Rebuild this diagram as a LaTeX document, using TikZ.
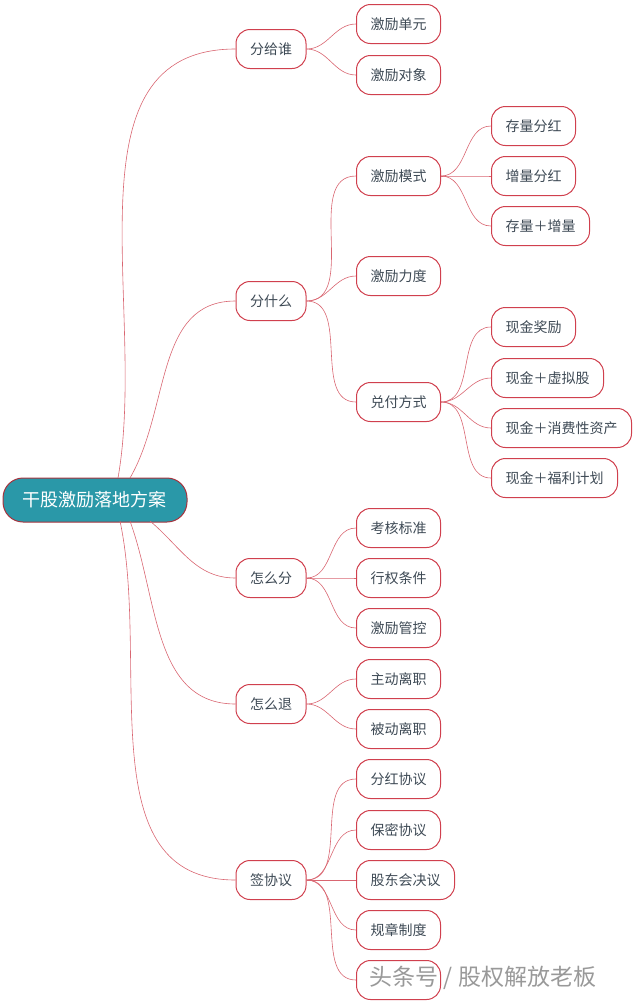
\documentclass[tikz,border=0pt]{standalone}
\usepackage{fontspec}
\setmainfont{Noto Sans CJK SC}
\definecolor{tc}{HTML}{3E4A55}
\definecolor{bd}{HTML}{D0404E}
\definecolor{tl}{HTML}{2A98A8}
\begin{document}
\begin{tikzpicture}[x=1pt,y=-1pt,
  nd/.style={draw=bd,line width=1pt,fill=white,rounded corners=14pt,minimum height=39pt,inner xsep=14pt,font=\fontsize{14}{16}\selectfont,text=tc},
  root/.style={draw=bd!80!black,line width=1pt,fill=tl,rounded corners=20pt,minimum height=44pt,minimum width=184pt,text=white,font=\fontsize{18}{21}\selectfont},
  ln/.style={draw=bd!80,line width=0.6pt}]
\useasboundingbox (0,0) rectangle (640,1005);
\node[root] (r) at (95,500) {干股激励落地方案};
\node[nd] (a) at (271,49) {分给谁};
\node[nd] (b) at (271,301) {分什么};
\node[nd] (c) at (271,578) {怎么分};
\node[nd] (d) at (271,704) {怎么退};
\node[nd] (e) at (271,880) {签协议};
\foreach \n/\y/\t in {a1/24/激励单元,a2/75/激励对象,b1/176/激励模式,b2/276/激励力度,b3/402/兑付方式,c1/528/考核标准,c2/578/行权条件,c3/628/激励管控,d1/679/主动离职,d2/729/被动离职,e1/779/分红协议,e2/830/保密协议,e3/880/股东会决议,e4/930/规章制度,e5/980/{\phantom{薪酬制度}}}
  \node[nd,anchor=west] (\n) at (356,\y) {\t};
\foreach \n/\y/\t in {m1/126/存量分红,m2/176/增量分红,m3/226/存量＋增量,p1/327/现金奖励,p2/378/现金＋虚拟股,p3/428/现金＋消费性资产,p4/478/现金＋福利计划}
  \node[nd,anchor=west] (\n) at (491,\y) {\t};
\draw[ln] (118,478) to[out=80,in=180] (a.west);
\draw[ln] (130,478) to[out=60,in=180] (b.west);
\draw[ln] (150,521) to[out=-40,in=180] (c.west);
\draw[ln] (130,521) to[out=-70,in=180] (d.west);
\draw[ln] (120,521) to[out=-78,in=180] (e.west);
\foreach \p/\c in {a/a1,a/a2,b/b1,b/b2,b/b3,c/c1,c/c2,c/c3,d/d1,d/d2,e/e1,e/e2,e/e3,e/e4,e/e5,b1/m1,b1/m2,b1/m3,b3/p1,b3/p2,b3/p3,b3/p4}
  \draw[ln] (\p.east) to[out=0,in=180] (\c.west);
\node[text=gray!80,font=\fontsize{23}{27}\selectfont] (w) at (483,978) {头条号 / 股权解放老板};
\end{tikzpicture}
\end{document}
